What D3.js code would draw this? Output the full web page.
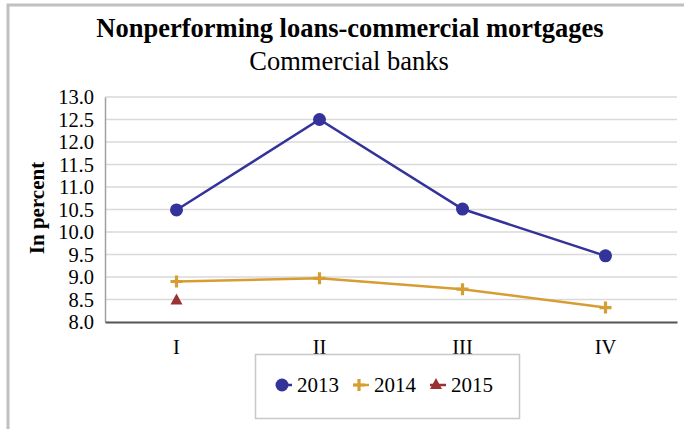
<!DOCTYPE html>
<html>
<head>
<meta charset="utf-8">
<script src="https://cdn.jsdelivr.net/npm/d3@7"></script>
<style>
  body { margin: 0; background: #fff; }
  svg { font-family: "Liberation Serif", "Times New Roman", serif; }
  .grid line { stroke: #d9d9d9; stroke-width: 1.5; }
</style>
</head>
<body>
<svg width="684" height="429"></svg>
<script>
const quarters = ["I", "II", "III", "IV"];
const yTicks = [8.0, 8.5, 9.0, 9.5, 10.0, 10.5, 11.0, 11.5, 12.0, 12.5, 13.0];
const years = ["2013", "2014", "2015"];
const values2013 = [10.49, 12.5, 10.51, 9.47];
const values2014 = [8.9, 8.97, 8.73, 8.32];
const values2015 = [8.48];
const colors = ["#333399", "#d69e32", "#993333"];

const svg = d3.select('svg');
const margin = { left: 105, right: 7, top: 97, bottom: 107 };
const width = +svg.attr('width');
const height = +svg.attr('height');
const innerWidth = width - margin.left - margin.right;
const innerHeight = height - margin.top - margin.bottom;
const serif = '"Liberation Serif", "Times New Roman", serif';

// frame (only top and left edges show)
svg.append('path')
  .attr('d', `M8,${height} L8,5 L${width},5`)
  .attr('fill', 'none')
  .attr('stroke', '#c0c0c0')
  .attr('stroke-width', 3);

svg.append('text')
  .attr('x', 350).attr('y', 37)
  .attr('text-anchor', 'middle')
  .style('font-size', '26.5px').style('font-weight', 'bold')
  .text('Nonperforming loans-commercial mortgages');

svg.append('text')
  .attr('x', 349).attr('y', 70)
  .attr('text-anchor', 'middle')
  .style('font-size', '26.5px')
  .text('Commercial banks');

const g = svg.append('g').attr('transform', `translate(${margin.left},${margin.top})`);

const xScale = d3.scaleBand().domain(quarters).range([0, innerWidth]);
const yScale = d3.scaleLinear().domain([8, 13]).range([innerHeight, 0]);

// grid
g.append('g').attr('class', 'grid')
  .selectAll('line')
  .data(yTicks.slice(1))
  .enter().append('line')
    .attr('x1', 0).attr('x2', innerWidth)
    .attr('y1', d => yScale(d)).attr('y2', d => yScale(d));

const yAxis = d3.axisLeft(yScale)
  .tickValues(yTicks)
  .tickFormat(d3.format('.1f'))
  .tickSize(0)
  .tickPadding(11);
const yAxisG = g.append('g').attr('class', 'y-axis').call(yAxis)
  .attr('font-family', serif).attr('font-size', 20.5);
yAxisG.selectAll('.tick text').attr('fill', '#000');
yAxisG.select('.domain').attr('stroke', '#a0a0a0').attr('stroke-width', 1.5);

const xAxis = d3.axisBottom(xScale).tickSize(0).tickPadding(17);
const xAxisG = g.append('g').attr('class', 'x-axis')
  .attr('transform', `translate(0,${innerHeight})`)
  .call(xAxis)
  .attr('font-family', serif).attr('font-size', 20.5);
xAxisG.selectAll('.tick text').attr('fill', '#000');
xAxisG.select('.domain').attr('stroke', '#555').attr('stroke-width', 2);

g.append('text')
  .attr('transform', 'rotate(-90)')
  .attr('x', -111).attr('y', -61)
  .attr('text-anchor', 'middle')
  .style('font-size', '21px').style('font-weight', 'bold')
  .text('In percent');

const xPos = (d, i) => xScale(quarters[i]) + xScale.bandwidth() / 2;
const line = d3.line().x(xPos).y(d => yScale(d));

const series = [values2013, values2014, values2015];
series.forEach((vals, k) => {
  if (vals.length > 1) {
    g.append('path').datum(vals)
      .attr('fill', 'none')
      .attr('stroke', colors[k])
      .attr('stroke-width', 2.5)
      .attr('d', line);
  }
});

function drawMarker(sel, k, x, y) {
  if (k === 0) {
    sel.append('circle').attr('cx', x).attr('cy', y).attr('r', 6.5).attr('fill', colors[0]);
  } else if (k === 1) {
    sel.append('path')
      .attr('d', `M${x - 6},${y} H${x + 6} M${x},${y - 6} V${y + 6}`)
      .attr('stroke', colors[1]).attr('stroke-width', 3.2).attr('fill', 'none');
  } else {
    sel.append('path')
      .attr('d', `M${x},${y - 7} L${x + 6},${y + 4} L${x - 6},${y + 4} Z`)
      .attr('fill', colors[2]);
  }
}

series.forEach((vals, k) => {
  vals.forEach((v, i) => drawMarker(g, k, xPos(v, i), yScale(v)));
});

// legend
const legend = svg.append('g');
legend.append('rect')
  .attr('x', 255.5).attr('y', 354.5).attr('width', 264).attr('height', 64)
  .attr('fill', '#fff').attr('stroke', '#c8c8c8').attr('stroke-width', 1.5);
const legendX = [282, 359, 436];
years.forEach((yr, k) => {
  const x = legendX[k];
  legend.append('line')
    .attr('x1', x - 6).attr('x2', x + 10).attr('y1', 385).attr('y2', 385)
    .attr('stroke', colors[k]).attr('stroke-width', 2.5);
  drawMarker(legend, k, x, 385);
  legend.append('text')
    .attr('x', x + 15).attr('y', 392)
    .style('font-size', '21px')
    .text(yr);
});
</script>
</body>
</html>
